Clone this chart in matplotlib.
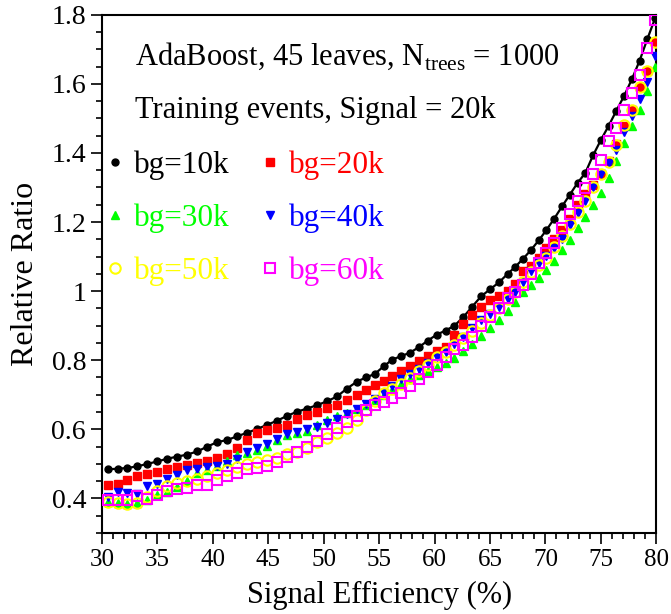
import matplotlib
matplotlib.use("Agg")
import matplotlib.pyplot as plt
from matplotlib.ticker import MultipleLocator, FormatStrFormatter
from matplotlib.lines import Line2D

plt.rcParams['font.family'] = ['Liberation Serif', 'DejaVu Serif']
plt.rcParams['mathtext.fontset'] = 'custom'
plt.rcParams['mathtext.rm'] = 'Liberation Serif'

# signal efficiency (%) of each working point
eff = [30.5, 31.4, 32.3, 33.2, 34.1, 35.0, 35.9, 36.8, 37.7, 38.6,
       39.5, 40.4, 41.3, 42.2, 43.1, 44.0, 44.9, 45.8, 46.7, 47.6,
       48.5, 49.4, 50.3, 51.2, 52.1, 53.0, 53.8, 54.6, 55.4, 56.2,
       57.0, 57.8, 58.6, 59.4, 60.2, 61.0, 61.8, 62.6, 63.4, 64.2,
       65.0, 65.8, 66.6, 67.3, 68.0, 68.7, 69.4, 70.1, 70.8, 71.5,
       72.2, 72.9, 73.6, 74.3, 75.0, 75.7, 76.4, 77.1, 77.8, 78.5,
       79.2, 79.9]

bg10k = [0.484, 0.486, 0.488, 0.493, 0.500, 0.507, 0.515, 0.521, 0.527, 0.536,
         0.550, 0.563, 0.569, 0.580, 0.590, 0.601, 0.613, 0.625, 0.639, 0.651,
         0.660, 0.670, 0.681, 0.695, 0.718, 0.738, 0.750, 0.760, 0.782, 0.802,
         0.812, 0.822, 0.838, 0.857, 0.874, 0.886, 0.900, 0.925, 0.955, 0.985,
         1.005, 1.025, 1.050, 1.071, 1.094, 1.119, 1.147, 1.177, 1.210, 1.245,
         1.279, 1.313, 1.342, 1.393, 1.437, 1.478, 1.522, 1.565, 1.613, 1.667,
         1.730, 1.790]

bg20k = [0.440, 0.443, 0.453, 0.464, 0.472, 0.476, 0.484, 0.492, 0.498, 0.503,
         0.509, 0.517, 0.529, 0.547, 0.569, 0.588, 0.599, 0.605, 0.613, 0.631,
         0.642, 0.651, 0.663, 0.671, 0.684, 0.698, 0.713, 0.728, 0.740, 0.754,
         0.768, 0.783, 0.798, 0.811, 0.826, 0.839, 0.872, 0.905, 0.932, 0.955,
         0.975, 0.987, 1.001, 1.020, 1.057, 1.073, 1.097, 1.124, 1.150, 1.176,
         1.210, 1.249, 1.280, 1.308, 1.340, 1.377, 1.425, 1.478, 1.525, 1.590,
         1.636, 1.720]

bg30k = [0.390, 0.386, 0.383, 0.388, 0.395, 0.409, 0.419, 0.434, 0.450, 0.473,
         0.481, 0.493, 0.507, 0.525, 0.530, 0.540, 0.552, 0.568, 0.583, 0.590,
         0.596, 0.612, 0.627, 0.638, 0.647, 0.658, 0.670, 0.684, 0.699, 0.714,
         0.730, 0.745, 0.757, 0.770, 0.781, 0.792, 0.805, 0.826, 0.848, 0.870,
         0.893, 0.917, 0.943, 0.968, 0.998, 1.019, 1.038, 1.062, 1.088, 1.120,
         1.148, 1.183, 1.215, 1.248, 1.285, 1.328, 1.378, 1.428, 1.478, 1.525,
         1.580, 1.650]

bg40k = [0.404, 0.418, 0.415, 0.414, 0.435, 0.443, 0.455, 0.468, 0.481, 0.484,
         0.491, 0.494, 0.500, 0.515, 0.534, 0.546, 0.558, 0.571, 0.586, 0.591,
         0.600, 0.607, 0.618, 0.630, 0.645, 0.658, 0.672, 0.688, 0.705, 0.726,
         0.746, 0.761, 0.775, 0.791, 0.809, 0.825, 0.847, 0.866, 0.894, 0.915,
         0.935, 0.955, 0.978, 0.996, 1.025, 1.058, 1.080, 1.103, 1.126, 1.150,
         1.190, 1.225, 1.262, 1.300, 1.338, 1.372, 1.408, 1.460, 1.508, 1.555,
         1.605, 1.680]

bg50k = [0.389, 0.387, 0.385, 0.388, 0.403, 0.422, 0.435, 0.445, 0.450, 0.457,
         0.464, 0.473, 0.482, 0.492, 0.500, 0.505, 0.510, 0.518, 0.528, 0.535,
         0.547, 0.563, 0.575, 0.588, 0.604, 0.628, 0.655, 0.683, 0.705, 0.716,
         0.732, 0.748, 0.768, 0.787, 0.810, 0.825, 0.843, 0.863, 0.886, 0.908,
         0.930, 0.952, 0.976, 0.998, 1.025, 1.054, 1.075, 1.096, 1.127, 1.160,
         1.193, 1.228, 1.262, 1.300, 1.338, 1.375, 1.424, 1.480, 1.525, 1.590,
         1.636, 1.720]

bg60k = [0.396, 0.396, 0.394, 0.406, 0.399, 0.409, 0.420, 0.426, 0.431, 0.440,
         0.440, 0.453, 0.466, 0.474, 0.484, 0.489, 0.494, 0.506, 0.520, 0.533,
         0.548, 0.566, 0.586, 0.604, 0.620, 0.638, 0.655, 0.670, 0.680, 0.691,
         0.705, 0.724, 0.747, 0.765, 0.785, 0.808, 0.832, 0.845, 0.866, 0.898,
         0.925, 0.952, 0.980, 0.998, 1.018, 1.050, 1.080, 1.111, 1.140, 1.184,
         1.222, 1.260, 1.298, 1.340, 1.380, 1.435, 1.472, 1.523, 1.573, 1.627,
         1.705, 1.785]

fig = plt.figure(figsize=(6.71, 6.14), dpi=100)
ax = fig.add_axes([0.152, 0.132, 0.826, 0.844])

ax.plot(eff, bg10k, color='black', lw=1.6, marker='o', ms=5, zorder=3)
ax.plot(eff, bg20k, ls='none', marker='s', ms=5.8, color='#ff0000', zorder=3)
ax.plot(eff, bg30k, ls='none', marker='^', ms=6, color='#00ff00', zorder=3)
ax.plot(eff, bg40k, ls='none', marker='v', ms=6, color='#0000ff', zorder=3)
ax.plot(eff, bg50k, ls='none', marker='o', ms=7.5, mfc='none', mec='#ffff00', mew=1.5, zorder=3)
ax.plot(eff, bg60k, ls='none', marker='s', ms=7.5, mfc='none', mec='#ff00ff', mew=1.5, zorder=3)

ax.set_xlim(30, 80)
ax.set_ylim(0.3, 1.8)
ax.xaxis.set_major_locator(MultipleLocator(5))
ax.xaxis.set_minor_locator(MultipleLocator(1))
ax.yaxis.set_major_locator(MultipleLocator(0.2))
ax.yaxis.set_minor_locator(MultipleLocator(0.05))
ax.yaxis.set_major_formatter(FormatStrFormatter('%g'))
ax.tick_params(which='both', direction='out', top=False, right=False, width=1.2)
ax.tick_params(axis='x', labelsize=18)
ax.tick_params(axis='y', labelsize=20)
ax.tick_params(which='major', length=8)
ax.tick_params(which='minor', length=4.5)
for s in ax.spines.values():
    s.set_linewidth(1.5)

ax.set_xlabel('Signal Efficiency (%)', fontsize=22)
ax.set_ylabel('Relative Ratio', fontsize=23)
ax.xaxis.set_label_coords(0.5, -0.092)
ax.yaxis.set_label_coords(-0.112, 0.5)

ax.text(0.06, 0.9035, r'AdaBoost, 45 leaves, N$_{\rm trees}$ = 1000', transform=ax.transAxes,
        fontsize=22, va='baseline')
ax.text(0.06, 0.801, 'Training events, Signal = 20k', transform=ax.transAxes,
        fontsize=22, va='baseline')

handles = [
    Line2D([], [], ls='none', marker='o', ms=5, color='black'),
    Line2D([], [], ls='none', marker='^', ms=6, color='#00ff00'),
    Line2D([], [], ls='none', marker='o', ms=7.5, mfc='none', mec='#ffff00', mew=1.5),
    Line2D([], [], ls='none', marker='s', ms=5.8, color='#ff0000'),
    Line2D([], [], ls='none', marker='v', ms=6, color='#0000ff'),
    Line2D([], [], ls='none', marker='s', ms=7.5, mfc='none', mec='#ff00ff', mew=1.5),
]
labels = ['bg=10k', 'bg=30k', 'bg=50k', 'bg=20k', 'bg=40k', 'bg=60k']
colors = ['black', '#00ff00', '#ffff00', '#ff0000', '#0000ff', '#ff00ff']
ax.legend(handles, labels, ncol=2, loc='upper left', bbox_to_anchor=(-0.039, 0.781),
          frameon=False, fontsize=22.5, labelcolor=colors, handlelength=0.8,
          handletextpad=0.2, columnspacing=0.9, labelspacing=0.76, borderpad=0.2)

fig.savefig('out.png', dpi=100)
